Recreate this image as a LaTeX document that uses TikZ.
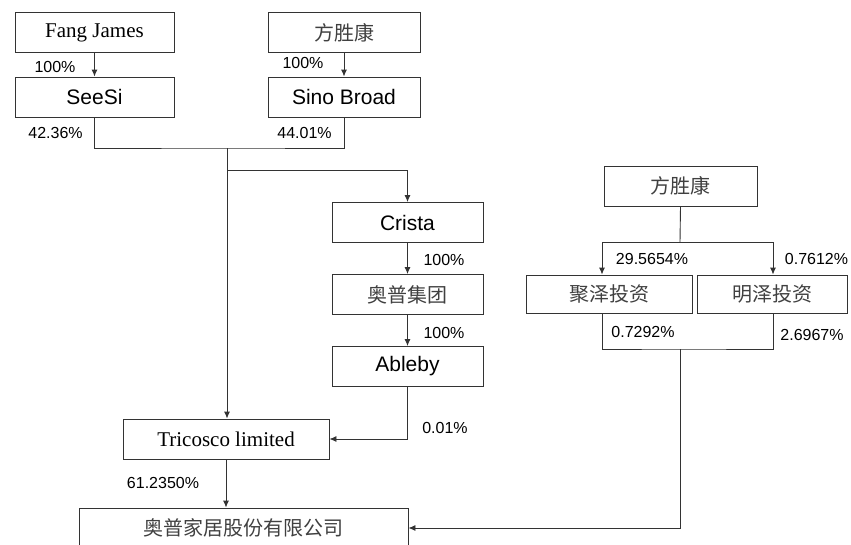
\documentclass[tikz,border=0pt]{standalone}
\usepackage{fontspec}
\setmainfont{Liberation Serif}
\newfontfamily\arialfont{Liberation Sans}
\newfontfamily\cjk{Noto Sans CJK SC}
\usetikzlibrary{arrows.meta}

\tikzset{
	entity/.style={draw=black!80, line width=0.9pt, minimum height=40pt, inner sep=0pt, font=\fontsize{21}{25}\selectfont},
	link/.style={draw=black!80, line width=0.9pt},
	arrow/.style={link, -{Latex[length=7pt, width=6pt]}},
	pct/.style={inner sep=0pt, font=\arialfont\fontsize{16}{19}\selectfont}
}

\begin{document}
\begin{tikzpicture}[x=1pt, y=-1pt]
		\useasboundingbox (0,0) rectangle (851,544);
		% boxes
		\node[entity, minimum width=159pt] (fang) at (94.5,32.5) {Fang James};
		\node[entity, minimum width=159pt, font=\arialfont\fontsize{21}{25}\selectfont] (seesi) at (94.5,97) {SeeSi};
		\node[entity, minimum width=152pt, font=\cjk\fontsize{20}{24}\selectfont, text=black!75] (fsk) at (344,32.5) {方胜康};
		\node[entity, minimum width=152pt, font=\arialfont\fontsize{21}{25}\selectfont] (sino) at (344,97) {Sino Broad};
		\node[entity, minimum width=151pt, font=\arialfont\fontsize{21}{25}\selectfont] (crista) at (407.5,222.5) {Crista};
		\node[entity, minimum width=151pt, font=\cjk\fontsize{20}{24}\selectfont, text=black!75] (aopugroup) at (407.5,294.5) {奥普集团};
		\node[entity, minimum width=151pt, font=\arialfont\fontsize{21}{25}\selectfont] (ableby) at (407.5,366.5) {Ableby};
		\node[entity, minimum width=206pt] (tricosco) at (226,439) {Tricosco limited};
		\node[entity, minimum width=329pt, font=\cjk\fontsize{20}{24}\selectfont, text=black!75] (aopuhome) at (243.5,528) {奥普家居股份有限公司};
		\node[entity, minimum width=153pt, font=\cjk\fontsize{20}{24}\selectfont, text=black!75] (fsktwo) at (680.5,186) {方胜康};
		\node[entity, minimum width=166pt, minimum height=38pt, font=\cjk\fontsize{20}{24}\selectfont, text=black!75] (juze) at (609,294) {聚泽投资};
		\node[entity, minimum width=150pt, minimum height=38pt, font=\cjk\fontsize{20}{24}\selectfont, text=black!75] (mingze) at (772,294) {明泽投资};

		% shares
		\node[pct] (pa) at (55,67) {100\%};
		\node[pct] (pb) at (303,63) {100\%};
		\node[pct] (pc) at (55.5,133) {42.36\%};
		\node[pct] (pd) at (304.5,133) {44.01\%};
		\node[pct] (pe) at (444,260) {100\%};
		\node[pct] (pf) at (444,333) {100\%};
		\node[pct] (pg) at (445,428) {0.01\%};
		\node[pct] (ph) at (163,483) {61.2350\%};
		\node[pct] (pi) at (652,259) {29.5654\%};
		\node[pct] (pj) at (816.5,259) {0.7612\%};
		\node[pct] (pk) at (643,332) {0.7292\%};
		\node[pct] (pl) at (812,335) {2.6967\%};

		% links
		\coordinate (merge) at (227,148);
		\coordinate (split) at (227,170);
		\draw[arrow] (fang) -- (seesi);
		\draw[arrow] (fsk) -- (sino);
		\draw[link] (seesi.south) |- (merge) -| (sino.south);
		\draw[arrow] (merge) -- (merge |- tricosco.north);
		\draw[arrow] (split) -| (crista.north);
		\draw[arrow] (crista) -- (aopugroup);
		\draw[arrow] (aopugroup) -- (ableby);
		\draw[arrow] (ableby.south) |- (tricosco.east);
		\draw[arrow] (tricosco.south) -- (tricosco.south |- aopuhome.north);

		\coordinate (fork) at (680,242);
		\coordinate (gather) at (680,349);
		\draw[link] (fsktwo.south) -- (fork);
		\draw[arrow] (fork) -| ([xshift=-7pt]juze.north);
		\draw[arrow] (fork) -| ([xshift=1pt]mingze.north);
		\draw[link] ([xshift=-7pt]juze.south) |- (gather) -| ([xshift=1pt]mingze.south);
		\draw[arrow] (gather) |- (aopuhome.east);
	\end{tikzpicture}
\end{document}
